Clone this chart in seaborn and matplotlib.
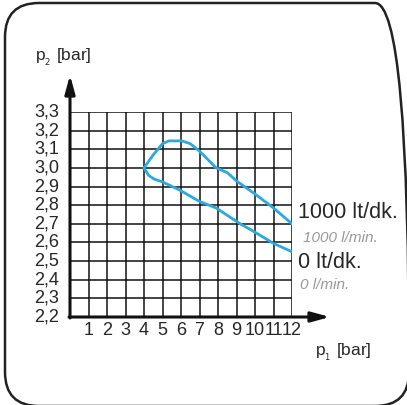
"""
p1 / p2 pressure regulation chart
"""

import matplotlib
matplotlib.use('Agg')
import matplotlib.pyplot as plt
import matplotlib.transforms as mtransforms
from matplotlib.patches import FancyBboxPatch
import seaborn as sns

# data
x_ticks = [1, 2, 3, 4, 5, 6, 7, 8, 9, 10, 11, 12]
y_ticks = [2.2, 2.3, 2.4, 2.5, 2.6, 2.7, 2.8, 2.9, 3.0, 3.1, 3.2, 3.3]
y_tick_labels = ['2,2', '2,3', '2,4', '2,5', '2,6', '2,7', '2,8', '2,9',
                 '3,0', '3,1', '3,2', '3,3']

p1_flow_1000 = [4.0, 4.5, 5.0, 5.35, 6.05, 6.5, 7.0, 7.9, 8.5, 9.0, 10.0, 11.0, 12.0]
p2_flow_1000 = [3.0, 3.07, 3.13, 3.145, 3.145, 3.13, 3.09, 3.0, 2.975, 2.93, 2.86, 2.785, 2.70]

p1_flow_0 = [4.0, 4.25, 4.55, 5.0, 5.95, 7.0, 7.9, 9.2, 10.0, 11.0, 12.0]
p2_flow_0 = [3.0, 2.96, 2.94, 2.925, 2.88, 2.82, 2.785, 2.70, 2.655, 2.595, 2.55]

labels_main = ['1000 lt/dk.', '0 lt/dk.']
labels_sub = ['1000 l/min.', '0 l/min.']

sns.set_style('white')
plt.rcParams['font.family'] = ['Liberation Sans', 'DejaVu Sans']

W, H = 407, 406
fig = plt.figure(figsize=(W / 100, H / 100), dpi=100)
fig.patch.set_facecolor('white')

# rounded frame around the whole figure (pixel coordinates)
frame = FancyBboxPatch((5, -1), 404, 403,
                       boxstyle='round,pad=0,rounding_size=34',
                       transform=mtransforms.IdentityTransform(),
                       facecolor='none', edgecolor='#222222',
                       linewidth=1.8, clip_on=False)
fig.patches.append(frame)

ax = fig.add_axes([70 / W, 1 - 318 / H, 222 / W, 205 / H])
ax.set_xlim(0, 12)
ax.set_ylim(2.2, 3.3)

# grid
for xv in x_ticks:
    ax.axvline(xv, color='#111111', linewidth=1.1, zorder=1)
for yv in y_ticks[1:]:
    ax.axhline(yv, color='#111111', linewidth=1.1, zorder=1)

for s in ['top', 'right', 'left', 'bottom']:
    ax.spines[s].set_visible(False)

# flow curves
blue = '#29a9e0'
sns.lineplot(x=p1_flow_1000, y=p2_flow_1000, sort=False, estimator=None,
             color=blue, linewidth=2.0, ax=ax, zorder=3)
sns.lineplot(x=p1_flow_0, y=p2_flow_0, sort=False, estimator=None,
             color=blue, linewidth=2.0, ax=ax, zorder=3)

# ticks
ax.set_xticks(x_ticks)
ax.set_xticklabels([str(v) for v in x_ticks], fontsize=13)
ax.set_yticks(y_ticks)
ax.set_yticklabels(y_tick_labels, fontsize=13)
ax.tick_params(length=0, pad=3)
ax.tick_params(axis='y', pad=8)
shift = mtransforms.ScaledTranslation(0, 3 / 100, fig.dpi_scale_trans)
for lab in ax.get_yticklabels():
    lab.set_transform(lab.get_transform() + shift)
ax.set_xlabel('')
ax.set_ylabel('')

# axis arrows
ax.annotate('', xy=(70 / W, 1 - 76 / H), xytext=(70 / W, 1 - 319 / H),
            xycoords='figure fraction', textcoords='figure fraction',
            arrowprops=dict(arrowstyle='-|>,head_length=1.1,head_width=0.3',
                            color='#111111', linewidth=2.2, shrinkA=0, shrinkB=0))
ax.annotate('', xy=(330 / W, 1 - 318 / H), xytext=(69 / W, 1 - 318 / H),
            xycoords='figure fraction', textcoords='figure fraction',
            arrowprops=dict(arrowstyle='-|>,head_length=1.1,head_width=0.3',
                            color='#111111', linewidth=2.2, shrinkA=0, shrinkB=0))

# axis titles
fig.text(35 / W, 1 - 57 / H, r'p$_{_2}$ [bar]', fontsize=12.5, va='center', ha='left')
fig.text(315 / W, 1 - 352 / H, r'p$_{_1}$ [bar]', fontsize=12.5, va='center', ha='left')

# curve labels
fig.text(298 / W, 1 - 213 / H, labels_main[0], fontsize=15.5, va='center', ha='left')
fig.text(303 / W, 1 - 238 / H, labels_sub[0], fontsize=11, va='center', ha='left',
         style='italic', color='#999999')
fig.text(298 / W, 1 - 263 / H, labels_main[1], fontsize=15.5, va='center', ha='left')
fig.text(300 / W, 1 - 285 / H, labels_sub[1], fontsize=11, va='center', ha='left',
         style='italic', color='#999999')

fig.savefig('out.png', dpi=100)
